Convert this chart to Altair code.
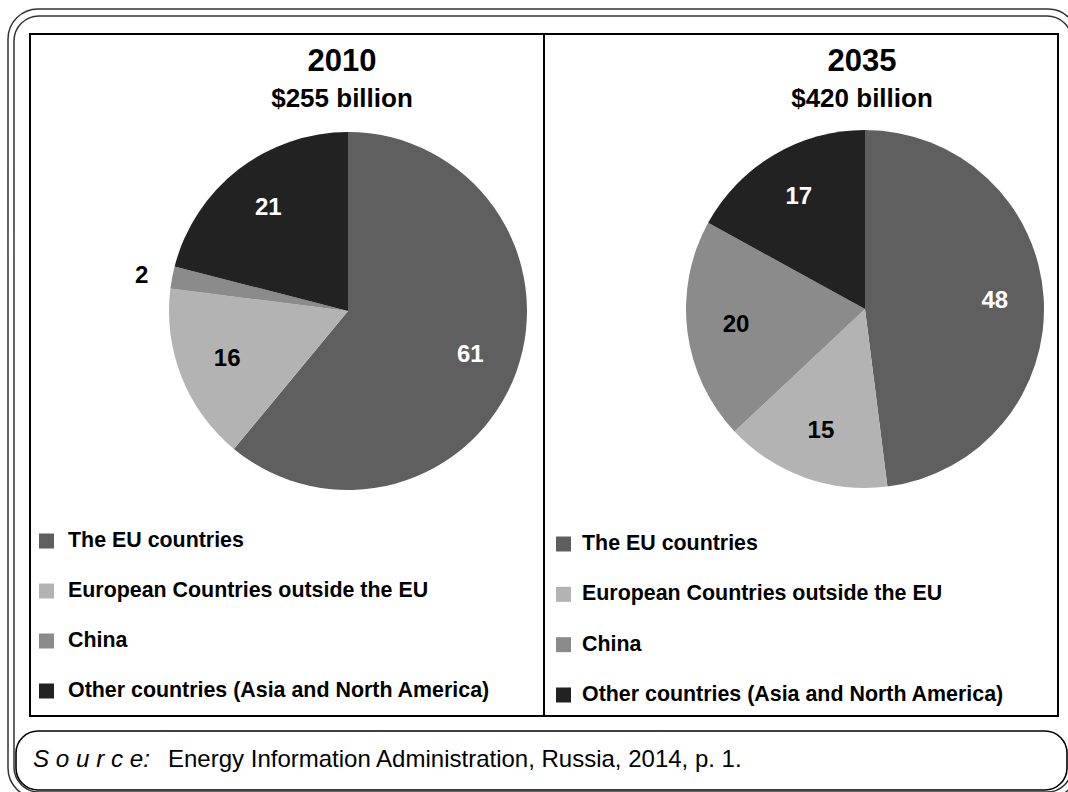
import altair as alt
import pandas as pd

# ---- data ----
categories = [
    "The EU countries",
    "European Countries outside the EU",
    "China",
    "Other countries (Asia and North America)",
]
shares_2010 = [61, 16, 2, 21]
shares_2035 = [48, 15, 20, 17]
years = ["2010", "2035"]
totals = ["$255 billion", "$420 billion"]
colors = ["#5f5f5f", "#b3b3b3", "#8b8b8b", "#222222"]
source_label = "S o u r c e:"
source_text = "Energy Information Administration, Russia, 2014, p. 1."

FONT = "Liberation Sans"

rows = []
for year, shares in zip(years, [shares_2010, shares_2035]):
    for i, (c, s) in enumerate(zip(categories, shares)):
        rows.append({"year": year, "category": c, "share": s, "idx": i})
df = pd.DataFrame(rows)
legend_df = pd.DataFrame({"category": categories, "idx": list(range(len(categories)))})
title_df = pd.DataFrame({"year": years, "total": totals})
source_df = pd.DataFrame({"label": [source_label], "text": [source_text]})
one = pd.DataFrame({"k": [0]})

color_scale = alt.Scale(domain=categories, range=colors)


def frame(x, x2, y, y2, r, sw, stroke):
    return alt.Chart(one).mark_rect(
        fillOpacity=0, stroke=stroke, strokeWidth=sw, cornerRadius=r
    ).encode(x=alt.value(x), x2=alt.value(x2), y=alt.value(y), y2=alt.value(y2))


def rule(x, x2, y, y2, sw):
    return alt.Chart(one).mark_rule(color="black", strokeWidth=sw).encode(
        x=alt.value(x), x2=alt.value(x2), y=alt.value(y), y2=alt.value(y2)
    )


def pie(year, cx, cy):
    base = alt.Chart(df).transform_filter(alt.datum.year == year)
    theta = alt.Theta("share:Q", stack=True)
    order = alt.Order("idx:Q", sort="ascending")
    arcs = base.mark_arc(radius=179, stroke=None).encode(
        theta=theta,
        order=order,
        color=alt.Color("category:N", scale=color_scale, legend=None),
        x=alt.value(cx),
        y=alt.value(cy),
    )
    inner = base.mark_text(
        radius=130, font=FONT, fontSize=24, fontWeight="bold", baseline="middle"
    ).encode(
        theta=theta,
        order=order,
        detail="category:N",
        x=alt.value(cx),
        y=alt.value(cy),
        text=alt.condition("datum.share < 5", alt.value(""), alt.Text("share:Q")),
        color=alt.condition(
            alt.FieldOneOfPredicate(field="category", oneOf=[categories[0], categories[3]]),
            alt.value("white"),
            alt.value("black"),
        ),
    )
    outer = base.mark_text(
        radius=210, font=FONT, fontSize=24, fontWeight="bold", baseline="middle", color="black"
    ).encode(
        theta=theta,
        order=order,
        detail="category:N",
        x=alt.value(cx),
        y=alt.value(cy + 4),
        text=alt.condition("datum.share >= 5", alt.value(""), alt.Text("share:Q")),
    )
    return [arcs, inner, outer]


def titles(year, cx):
    base = alt.Chart(title_df).transform_filter(alt.datum.year == year)
    t1 = base.mark_text(font=FONT, fontSize=31, fontWeight="bold", baseline="middle", color="black").encode(
        text="year:N", x=alt.value(cx), y=alt.value(62)
    )
    t2 = base.mark_text(font=FONT, fontSize=26, fontWeight="bold", baseline="middle", color="black").encode(
        text="total:N", x=alt.value(cx), y=alt.value(99)
    )
    return [t1, t2]


def legend(xs, xt, y0, y1):
    yscale = alt.Scale(domain=categories, range=[y0, y1], padding=0)
    base = alt.Chart(legend_df)
    ypos = alt.Y("category:N", scale=yscale, axis=None, sort=categories)
    sq = base.mark_square(size=225, opacity=1).encode(
        x=alt.value(xs),
        y=ypos,
        color=alt.Color("category:N", scale=color_scale, legend=None),
    )
    tx = base.mark_text(
        align="left", baseline="middle", font=FONT, fontSize=21.4, fontWeight="bold", color="black"
    ).encode(x=alt.value(xt), y=ypos, text="category:N")
    return [sq, tx]


layers = [
    frame(8, 1078, 9, 798, 30, 1.5, "#333333"),
    frame(14, 1072, 16, 792, 25, 1.5, "#333333"),
    frame(16, 1067, 731, 790, 22, 1.6, "black"),
    alt.Chart(one).mark_rect(fill="white", stroke="black", strokeWidth=2).encode(
        x=alt.value(30), x2=alt.value(1058), y=alt.value(34), y2=alt.value(716)
    ),
    rule(544, 544, 34, 716, 2),
]
layers += pie("2010", 348, 311)
layers += pie("2035", 865, 309)
layers += titles("2010", 342)
layers += titles("2035", 862)
layers += legend(46.5, 68, 541, 691)
layers += legend(563.5, 582, 544, 695)

src = alt.Chart(source_df)
layers.append(
    src.mark_text(align="left", baseline="middle", font=FONT, fontSize=24.2, fontStyle="italic", color="black").encode(
        text="label:N", x=alt.value(33), y=alt.value(760)
    )
)
layers.append(
    src.mark_text(align="left", baseline="middle", font=FONT, fontSize=24, color="black").encode(
        text="text:N", x=alt.value(168), y=alt.value(760)
    )
)

chart = (
    alt.layer(*layers)
    .resolve_scale(y="independent")
    .properties(
        width=1068,
        height=792,
        padding=0,
        autosize=alt.AutoSizeParams(type="none"),
        background="white",
    )
    .configure_view(stroke=None)
)

chart.save("out.html", embed_options={"renderer": "svg", "actions": False})
